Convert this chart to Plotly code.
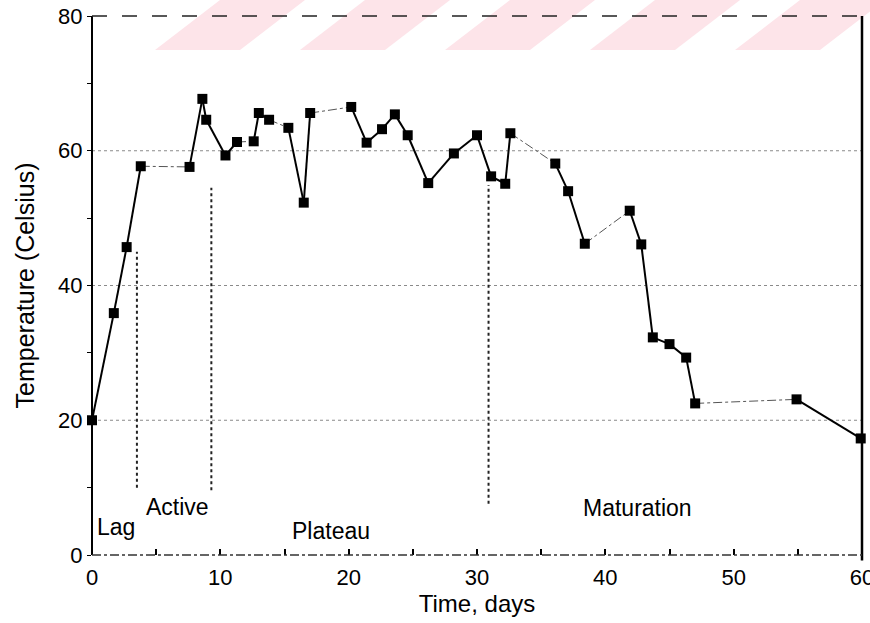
import plotly.graph_objects as go

# ---- data ----
days = [0, 1.7, 2.7, 3.8, 7.6, 8.6, 8.9, 10.4, 11.3, 12.6, 13.0, 13.8, 15.3, 16.5,
        17.0, 20.2, 21.4, 22.6, 23.6, 24.6, 26.2, 28.2, 30.0, 31.1, 32.2, 32.6,
        36.1, 37.1, 38.4, 41.9, 42.8, 43.7, 45.0, 46.3, 47.0, 54.9, 59.9]
temps = [20.0, 35.9, 45.7, 57.7, 57.6, 67.7, 64.6, 59.3, 61.3, 61.4, 65.6, 64.6,
         63.4, 52.3, 65.6, 66.5, 61.2, 63.2, 65.4, 62.3, 55.2, 59.6, 62.3, 56.2,
         55.1, 62.6, 58.1, 54.0, 46.2, 51.1, 46.1, 32.3, 31.3, 29.3, 22.5, 23.1, 17.3]
# index i means the link between point i and i+1 is a faint dashed connection
dashed_links = [3, 8, 11, 14, 25, 28, 34]

phase_names = ["Lag", "Active", "Plateau", "Maturation"]
phase_label_x = [1.9, 6.7, 18.6, 42.5]
phase_label_y = [4.2, 7.1, 3.6, 7.0]
boundary_days = [3.5, 9.3, 30.9]
boundary_top = [45.0, 54.5, 54.9]
boundary_bottom = [10.0, 9.6, 7.6]

grid_temps = [20, 40, 60]
x_ticks = [0, 5, 10, 15, 20, 25, 30, 35, 40, 45, 50, 55, 60]
x_tick_labels = ["0", "", "10", "", "20", "", "30", "", "40", "", "50", "", "60"]
y_ticks = [0, 10, 20, 30, 40, 50, 60, 70, 80]
y_tick_labels = ["0", "", "20", "", "40", "", "60", "", "80"]

# ---- build solid / dashed segment traces ----
solid_x, solid_y, dash_x, dash_y = [], [], [], []
for i in range(len(days) - 1):
    if i in dashed_links:
        dash_x += [days[i], days[i + 1], None]
        dash_y += [temps[i], temps[i + 1], None]
    else:
        solid_x += [days[i], days[i + 1], None]
        solid_y += [temps[i], temps[i + 1], None]

fig = go.Figure()

FIG_W, FIG_H = 870, 623
L, R, T, B = 92, 862, 16, 555          # plot area in window pixels
W, H = R - L, B - T
def px(xp):
    return (xp - L) / W
def py(yp):
    return (B - yp) / H

shapes = []
# watermark stripes
for k in range(6):
    x0 = 155 + 145 * k
    shapes.append(dict(type="path", xref="paper", yref="paper", layer="below",
                       path=f"M {px(x0)} {py(50)} L {px(x0 + 85)} {py(50)} "
                            f"L {px(x0 + 150)} {py(0)} L {px(x0 + 65)} {py(0)} Z",
                       fillcolor="#fde4e9", line=dict(width=0)))

# dotted gridlines
for g in grid_temps:
    shapes.append(dict(type="line", xref="x", yref="y", x0=0, x1=60, y0=g, y1=g,
                       line=dict(color="#8a8a8a", width=1, dash="dot"), layer="below"))

# phase boundaries
for bx, bt, bb in zip(boundary_days, boundary_top, boundary_bottom):
    shapes.append(dict(type="line", xref="x", yref="y", x0=bx, x1=bx, y0=bb, y1=bt,
                       line=dict(color="#222", width=2, dash="dot")))

# frame
shapes.append(dict(type="line", xref="paper", yref="paper", x0=0, x1=0, y0=0, y1=1,
                   line=dict(color="black", width=2)))
shapes.append(dict(type="line", xref="paper", yref="paper", x0=1, x1=1, y0=-0.01, y1=1,
                   line=dict(color="black", width=2.5)))
shapes.append(dict(type="line", xref="paper", yref="paper", x0=0, x1=1, y0=1, y1=1,
                   line=dict(color="#222", width=1.6, dash="longdash")))
shapes.append(dict(type="line", xref="paper", yref="paper", x0=0, x1=1, y0=0, y1=0,
                   line=dict(color="#333", width=1.5, dash="dashdot")))

fig.add_trace(go.Scatter(x=dash_x, y=dash_y, mode="lines",
                         line=dict(color="#555", width=1, dash="dashdot"),
                         hoverinfo="skip", showlegend=False, cliponaxis=False))
fig.add_trace(go.Scatter(x=solid_x, y=solid_y, mode="lines",
                         line=dict(color="black", width=2),
                         hoverinfo="skip", showlegend=False, cliponaxis=False))
fig.add_trace(go.Scatter(x=days, y=temps, mode="markers",
                         marker=dict(symbol="square", size=10, color="black"),
                         showlegend=False, cliponaxis=False))

FONT = "Liberation Sans, Arial, sans-serif"
for name, lx, ly in zip(phase_names, phase_label_x, phase_label_y):
    fig.add_annotation(x=lx, y=ly, text=name, showarrow=False,
                       font=dict(size=23, color="black", family=FONT))

fig.update_layout(
    width=FIG_W, height=FIG_H,
    margin=dict(l=L, r=FIG_W - R, t=T, b=FIG_H - B),
    paper_bgcolor="white", plot_bgcolor="white",
    font=dict(family=FONT, color="black", size=22),
    shapes=shapes,
    xaxis=dict(range=[0, 60], tickvals=x_ticks, ticktext=x_tick_labels,
               ticks="inside", ticklen=6, tickwidth=1.5, tickcolor="black",
               showgrid=False, zeroline=False, showline=False, automargin=False,
               ticklabeloverflow="allow", ticklabelstandoff=7,
               tickfont=dict(size=22),
               title=dict(text="Time, days", font=dict(size=24), standoff=2)),
    yaxis=dict(range=[0, 80], tickvals=y_ticks, ticktext=y_tick_labels,
               ticks="outside", ticklen=4, tickwidth=1, tickcolor="black",
               showgrid=False, zeroline=False, showline=False, automargin=False,
               ticklabeloverflow="allow",
               tickfont=dict(size=22),
               title=dict(text="Temperature (Celsius)", font=dict(size=25), standoff=16)),
)

fig.write_html("out.html",
               config={"displayModeBar": False},
               post_script="document.body.style.margin='0';"
                           "document.body.style.overflow='hidden';")
